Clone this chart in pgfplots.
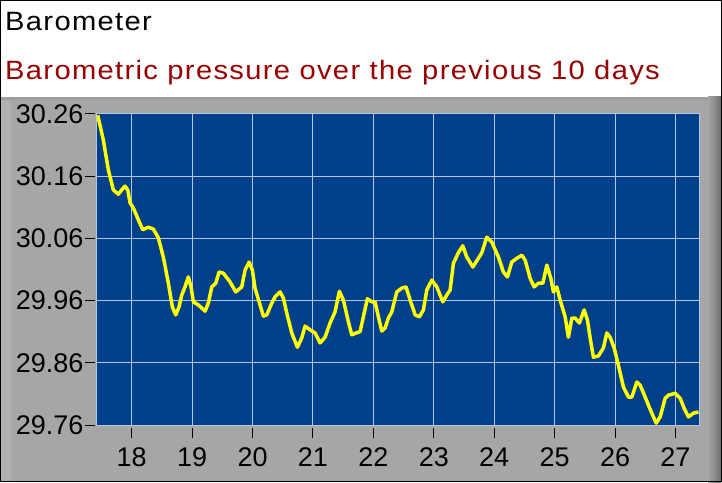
\documentclass[border=0pt]{standalone}
\usepackage{fontspec}
\setmainfont{Liberation Sans}
\newfontfamily\titlefont[FakeStretch=1.1, LetterSpace=5]{Liberation Sans}
\usepackage{pgfplots}
\pgfplotsset{compat=1.18}
\definecolor{plotblue}{HTML}{003F8A}
\definecolor{gridcol}{HTML}{B4C6E4}
\definecolor{panelgray}{HTML}{A6A6A6}
\definecolor{panellight}{HTML}{B0B0B0}
\definecolor{paneldark}{HTML}{6E6E6E}
\definecolor{subred}{HTML}{990000}
\definecolor{lineyellow}{HTML}{FFFF00}
\begin{document}
\begin{tikzpicture}[x=1pt,y=1pt]
% frame, header and grey panel
\fill[white] (0,0) rectangle (722,482);
\fill[panelgray] (0,0) rectangle (722,385);
\fill[panellight] (1,0) rectangle (11,385);
\fill[black!38] (0,382) rectangle (722,385);
\shade[left color=panelgray, right color=paneldark] (708,0) rectangle (721,385);
\node[anchor=base west, inner sep=0pt, font=\titlefont\fontsize{26.5}{30}\selectfont] at (5,451) {Barometer};
\node[anchor=base west, inner sep=0pt, text=subred, font=\titlefont\fontsize{26.5}{30}\selectfont] at (5,402) {Barometric pressure over the previous 10 days};
\begin{axis}[
    at={(96.7pt,57pt)}, anchor=south west,
    scale only axis, width=602.3pt, height=311pt,
    xmin=17.42, xmax=27.39,
    ymin=29.76, ymax=30.26,
    axis background/.style={fill=plotblue},
    xtick={18,19,20,21,22,23,24,25,26,27},
    ytick={29.76,29.86,29.96,30.06,30.16,30.26},
    yticklabels={29.76,29.86,29.96,30.06,30.16,30.26},
    xticklabels={18,19,20,21,22,23,24,25,26,27},
    grid=major,
    major grid style={draw=gridcol, line width=1pt},
    axis line style={draw=gridcol, line width=1pt},
    tick align=outside, major tick length=10pt,
    xtick pos=bottom, ytick pos=left,
    x tick style={draw=black, line width=1pt, yshift=-3pt},
    y tick style={draw=black, line width=1pt, xshift=-1.5pt},
    ticklabel style={font=\fontsize{27}{30}\selectfont, inner sep=0pt},
    xticklabel style={anchor=north, yshift=-12pt},
    yticklabel style={anchor=east, xshift=-3pt},
]
\addplot[lineyellow, line width=3.5pt, line join=round] coordinates {
(17.437,30.258) (17.530,30.218) (17.613,30.170) (17.695,30.138) (17.778,30.131)
(17.834,30.138) (17.889,30.144) (17.934,30.138) (17.972,30.117) (18.026,30.109)
(18.109,30.090) (18.182,30.074) (18.275,30.078) (18.358,30.075) (18.440,30.061)
(18.523,30.030) (18.606,29.988) (18.672,29.950) (18.728,29.937) (18.783,29.950)
(18.828,29.969) (18.882,29.982) (18.937,29.998) (18.982,29.982) (19.020,29.958)
(19.103,29.953) (19.214,29.943) (19.268,29.956) (19.325,29.982) (19.391,29.988)
(19.445,30.006) (19.517,30.004) (19.627,29.990) (19.722,29.974) (19.821,29.982)
(19.876,30.009) (19.942,30.022) (19.997,30.009) (20.041,29.980) (20.179,29.935)
(20.235,29.937) (20.318,29.956) (20.373,29.966) (20.455,29.974) (20.510,29.964)
(20.566,29.940) (20.649,29.908) (20.742,29.885) (20.815,29.900) (20.869,29.919)
(20.952,29.913) (21.035,29.908) (21.118,29.892) (21.200,29.901) (21.283,29.924)
(21.366,29.942) (21.437,29.975) (21.503,29.961) (21.586,29.926) (21.642,29.905)
(21.714,29.908) (21.780,29.910) (21.834,29.934) (21.901,29.963) (21.974,29.958)
(22.028,29.958) (22.083,29.934) (22.139,29.911) (22.194,29.916) (22.248,29.932)
(22.305,29.942) (22.387,29.974) (22.470,29.980) (22.541,29.982) (22.608,29.961)
(22.692,29.937) (22.762,29.934) (22.828,29.945) (22.884,29.977) (22.967,29.993)
(23.050,29.982) (23.149,29.958) (23.215,29.969) (23.270,29.977) (23.325,30.020)
(23.407,30.037) (23.480,30.048) (23.546,30.030) (23.646,30.014) (23.738,30.028)
(23.795,30.037) (23.877,30.062) (23.960,30.054) (24.070,30.030) (24.152,30.006)
(24.219,29.998) (24.291,30.022) (24.374,30.028) (24.457,30.033) (24.512,30.025)
(24.594,29.996) (24.661,29.982) (24.732,29.988) (24.805,29.988) (24.871,30.017)
(24.937,29.996) (24.980,29.974) (25.036,29.982) (25.091,29.961) (25.174,29.934)
(25.228,29.901) (25.285,29.932) (25.339,29.932) (25.411,29.924) (25.488,29.945)
(25.543,29.929) (25.588,29.900) (25.642,29.869) (25.725,29.871) (25.808,29.884)
(25.864,29.908) (25.919,29.901) (25.985,29.884) (26.056,29.856) (26.139,29.821)
(26.222,29.805) (26.278,29.805) (26.361,29.829) (26.416,29.824) (26.498,29.805)
(26.553,29.792) (26.609,29.779) (26.681,29.763) (26.747,29.773) (26.830,29.803)
(26.884,29.808) (26.995,29.811) (27.078,29.803) (27.144,29.787) (27.215,29.773)
(27.298,29.779) (27.381,29.781)
};
\end{axis}
\draw[black, line width=1pt] (0.5,0.5) rectangle (721.5,481.5);
\end{tikzpicture}
\end{document}
